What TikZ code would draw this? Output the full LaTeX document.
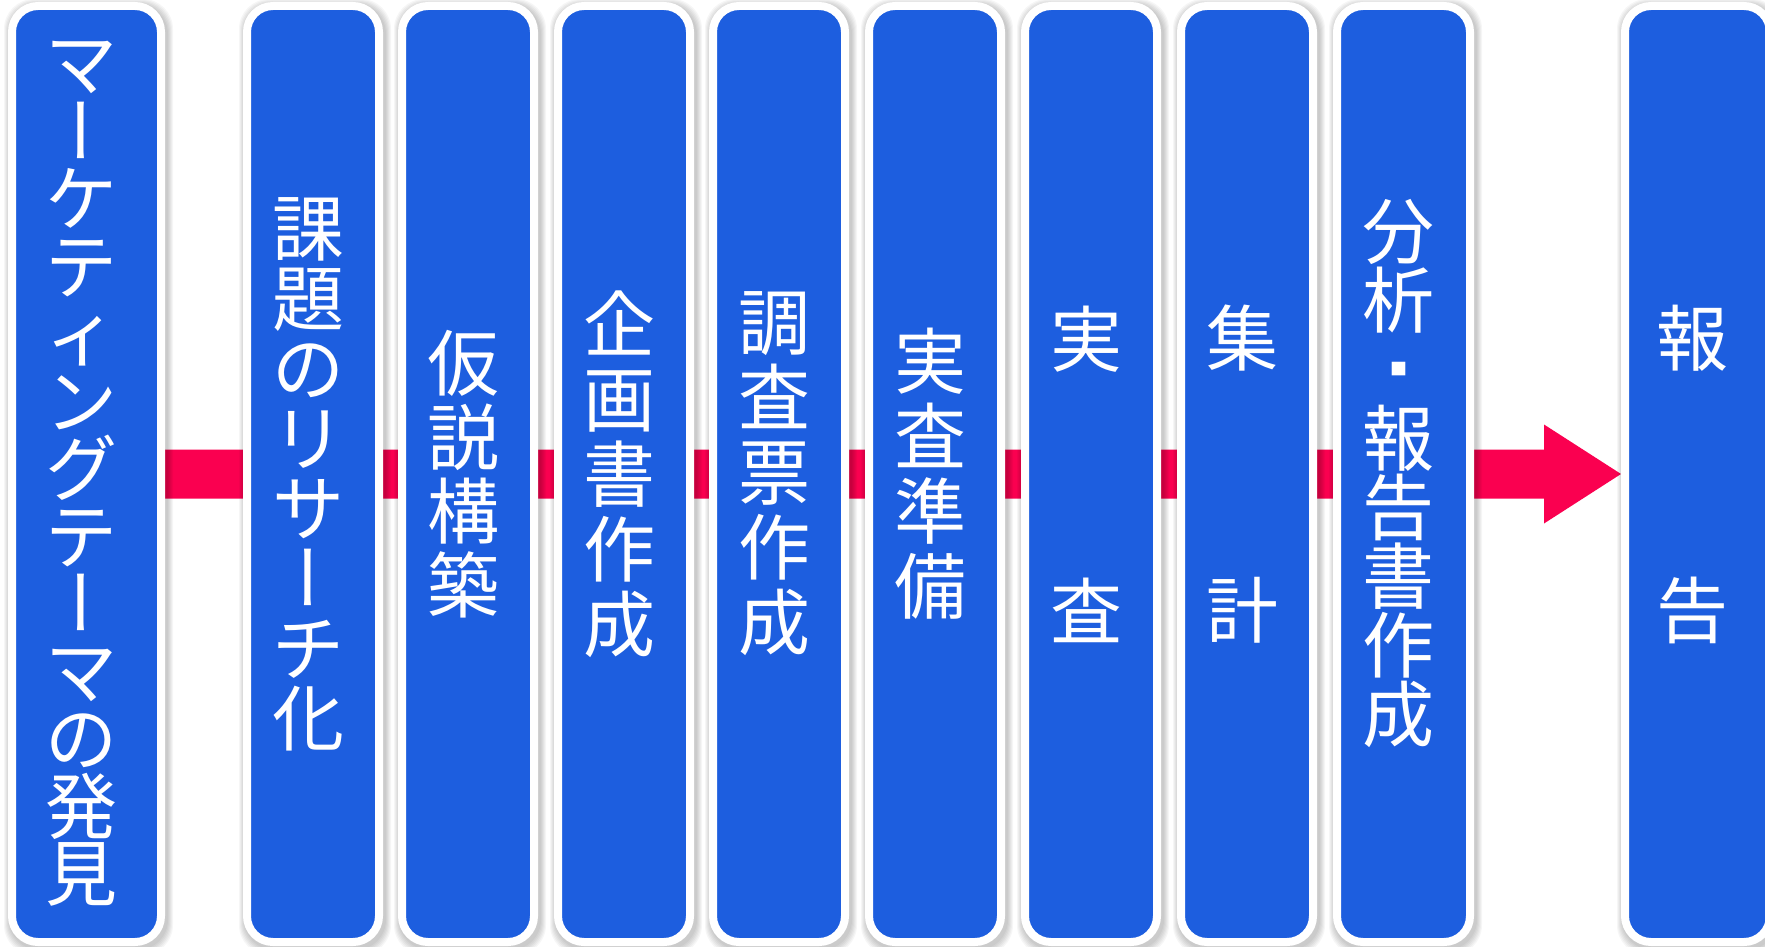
\documentclass[tikz,border=0pt]{standalone}
\usepackage{fontspec}
\setmainfont{Noto Sans CJK JP}
\newfontfamily\vertfont[RawFeature=+vert]{Noto Sans CJK JP}
\newcommand\vchouon{{\vertfont ー}}
\newcommand\sqdot{\raisebox{21pt}{\fontsize{17pt}{17pt}\selectfont ■}}
\usetikzlibrary{backgrounds}
\definecolor{boxblue}{RGB}{29,94,223}
\definecolor{arrowpink}{RGB}{250,0,80}
\tikzset{
  stagebox/.style={draw=white, line width=8pt, fill=boxblue, rounded corners=26pt,
    minimum height=936pt, inner sep=0pt},
  stagetext/.style={text=white, align=center, inner sep=0pt,
    font=\fontsize{72pt}{#1}\selectfont},
  softshadow/.style={black, opacity=0.035, rounded corners=30pt},
}
\begin{document}
\begin{tikzpicture}[x=1pt,y=-1pt]
\useasboundingbox (0,0) rectangle (1765,947);
% boxes
\node[stagebox, minimum width=149pt] (b1) at (86.5,474) {};
\node[stagebox, minimum width=132pt] (b2) at (313,474) {};
\node[stagebox, minimum width=132pt] (b3) at (468,474) {};
\node[stagebox, minimum width=132pt] (b4) at (624,474) {};
\node[stagebox, minimum width=132pt] (b5) at (779,474) {};
\node[stagebox, minimum width=132pt] (b6) at (935,474) {};
\node[stagebox, minimum width=132pt] (b7) at (1091,474) {};
\node[stagebox, minimum width=132pt] (b8) at (1247,474) {};
\node[stagebox, minimum width=133pt] (b9) at (1403.5,474) {};
\node[stagebox, minimum width=145pt] (b10) at (1697.5,474) {};
% texts
\node[stagetext=67.5pt] (t1) at ([xshift=-5pt]b1.center)
  {マ\\\vchouon\\ケ\\テ\\ィ\\ン\\グ\\テ\\\vchouon\\マ\\の\\発\\見};
\node[stagetext=70pt] (t2) at ([xshift=-5pt]b2.center)
  {課\\題\\の\\リ\\サ\\\vchouon\\チ\\化};
\node[stagetext=74pt] (t3) at ([xshift=-5pt]b3.center) {仮\\説\\構\\築};
\node[stagetext=75pt] (t4) at ([xshift=-5pt]b4.center) {企\\画\\書\\作\\成};
\node[stagetext=75pt] (t5) at ([xshift=-5pt]b5.center) {調\\査\\票\\作\\成};
\node[stagetext=75pt] (t6) at ([xshift=-5pt]b6.center) {実\\査\\準\\備};
\node[stagetext=68pt] (t7) at ([xshift=-5pt]b7.center) {実\\[204pt]査};
\node[stagetext=68pt] (t8) at ([xshift=-5pt]b8.center) {集\\[204pt]計};
\node[stagetext=69pt] (t9) at ([xshift=-5pt]b9.center) {分\\析\\\sqdot\\報\\告\\書\\作\\成};
\node[stagetext=68pt] (t10) at ([xshift=-5pt]b10.center) {報\\[204pt]告};
% background: white, arrow, shadows
\begin{scope}[on background layer]
  \fill[white] (0,0) rectangle (1765,947);
  \fill[arrowpink] ([yshift=24.5pt]b1.east)
    -- ([xshift=-77pt,yshift=24.5pt]b10.west)
    -- ([xshift=-77pt,yshift=49.5pt]b10.west)
    -- (b10.west)
    -- ([xshift=-77pt,yshift=-49.5pt]b10.west)
    -- ([xshift=-77pt,yshift=-24.5pt]b10.west)
    -- ([yshift=-24.5pt]b1.east) -- cycle;
  \foreach \n in {b1,b2,b3,b4,b5,b6,b7,b8,b9,b10}{
    \foreach \k in {1,...,6}{
      \fill[softshadow] ([shift={(2-\k,3-\k)}]\n.north west)
        rectangle ([shift={(2+\k,3+\k)}]\n.south east);
    }
  }
\end{scope}
\end{tikzpicture}
\end{document}
